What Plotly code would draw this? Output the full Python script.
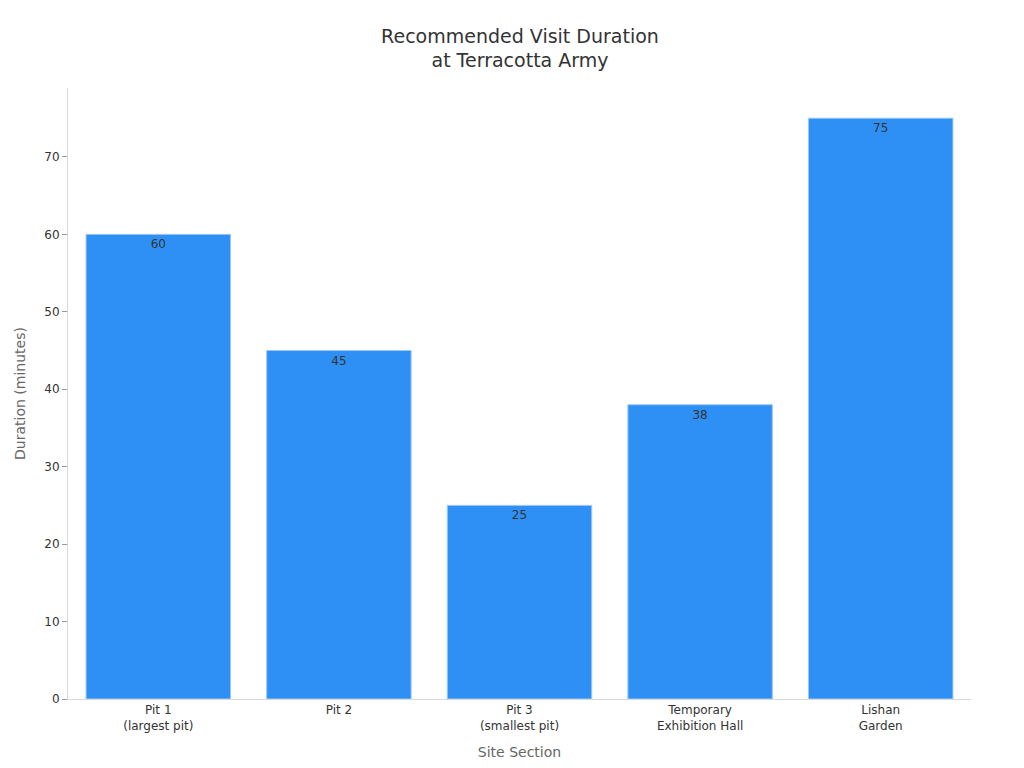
import plotly.graph_objects as go

sections = ["Pit 1<br>(largest pit)", "Pit 2", "Pit 3<br>(smallest pit)",
            "Temporary<br>Exhibition Hall", "Lishan<br>Garden"]
durations = [60, 45, 25, 38, 75]

fig = go.Figure(go.Bar(
    x=sections, y=durations,
    text=durations, textposition="inside", insidetextanchor="end",
    textfont=dict(color="#333333", size=12),
    marker=dict(color="#2E90F5", line=dict(color="#9CC8F8", width=1)),
))

fig.update_layout(
    width=1024, height=768,
    font=dict(family="DejaVu Sans", color="#333333"),
    title=dict(text="Recommended Visit Duration<br>at Terracotta Army",
               x=0.5, xanchor="center", y=0.955, font=dict(size=19)),
    plot_bgcolor="white", paper_bgcolor="white",
    margin=dict(l=60, r=61, t=80, b=77),
    bargap=0.2,
    showlegend=False,
)
fig.update_xaxes(title=dict(text="Site Section", font=dict(size=14, color="#666666")),
                 showline=True, linecolor="#d9d9d9", tickfont=dict(size=12))
fig.update_yaxes(title=dict(text="Duration (minutes)", font=dict(size=14, color="#666666")),
                 range=[0, 78.9], dtick=10, showgrid=False, zeroline=False,
                 showline=True, linecolor="#d9d9d9", ticks="outside",
                 tickcolor="#999999", ticklen=5, tickfont=dict(size=12))

fig.write_html("out.html")
